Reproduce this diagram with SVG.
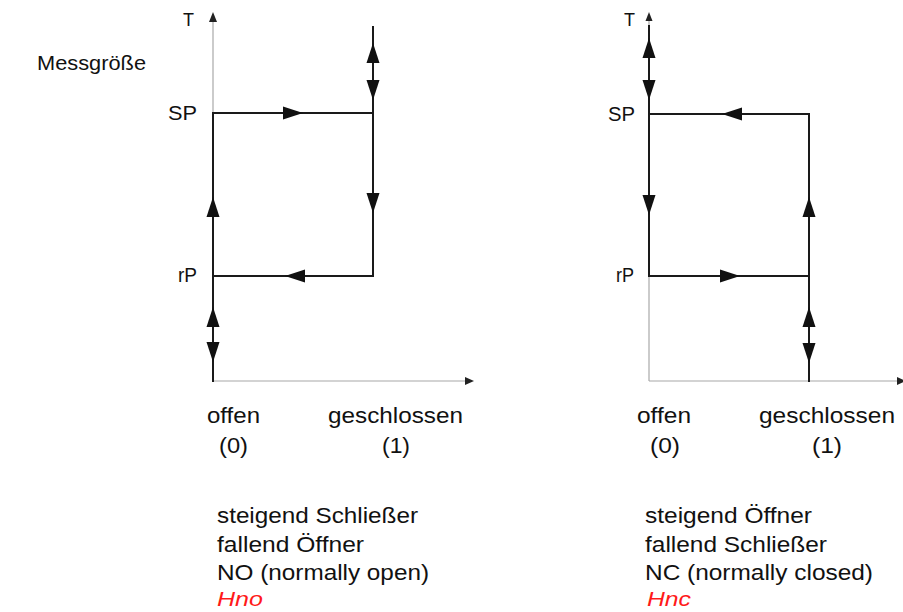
<svg xmlns="http://www.w3.org/2000/svg" width="903" height="612" viewBox="0 0 903 612">
  <style>
    .axis { stroke: #a8a8a8; stroke-width: 1.2; fill: none; }
    .path { stroke: #1a1a1a; stroke-width: 2; fill: none; stroke-linecap: square; }
    .head { fill: #111; }
    .axhead { fill: #222; }
    text { font-family: "Liberation Sans", Arial, sans-serif; fill: #111; }
    .lbl { font-size: 19.5px; }
    .axl { font-size: 18px; }
    .cap { font-size: 22px; }
    .code { font-family: "Liberation Sans", Arial, sans-serif; font-style: italic; font-size: 21px; fill: #ff1a1a; }
  </style>
  <defs>
    <!-- filled direction triangle, tip at origin, pointing along +x -->
    <path id="tri" d="M0,0 L-20,-6.5 L-20,6.5 Z"/>
  </defs>

  <rect width="903" height="612" fill="#fff"/>

  <g id="title">
    <text class="lbl" x="37" y="70" textLength="109" lengthAdjust="spacingAndGlyphs">Messgröße</text>
  </g>

  <!-- switching characteristic: normally open -->
  <g id="chart-no">
    <g id="no-axes">
      <line class="axis" x1="213" y1="20" x2="213" y2="381"/>
      <line class="axis" x1="213" y1="381" x2="467" y2="381"/>
      <path class="axhead" d="M213,12 L209,22 L217,22 Z"/>
      <path class="axhead" d="M474,381 L465,377 L465,385 Z"/>
      <text class="axl" x="183" y="26" textLength="11" lengthAdjust="spacingAndGlyphs">T</text>
      <text class="lbl" x="168" y="120" textLength="29" lengthAdjust="spacingAndGlyphs">SP</text>
      <text class="lbl" x="178" y="282" textLength="19" lengthAdjust="spacingAndGlyphs">rP</text>
    </g>
    <g id="no-connectors">
      <polyline class="path" points="213,381 213,113 373,113"/>
      <line class="path" x1="373" y1="27" x2="373" y2="276"/>
      <line class="path" x1="373" y1="276" x2="213" y2="276"/>
      <use href="#tri" class="head" transform="translate(303,113)"/>
      <use href="#tri" class="head" transform="translate(373,43) rotate(-90)"/>
      <use href="#tri" class="head" transform="translate(373,100) rotate(90)"/>
      <use href="#tri" class="head" transform="translate(373,213) rotate(90)"/>
      <use href="#tri" class="head" transform="translate(285,276) rotate(180)"/>
      <use href="#tri" class="head" transform="translate(213,197) rotate(-90)"/>
      <use href="#tri" class="head" transform="translate(213,307) rotate(-90)"/>
      <use href="#tri" class="head" transform="translate(213,362) rotate(90)"/>
    </g>
    <g id="no-states">
      <text class="cap" x="207" y="423" textLength="53" lengthAdjust="spacingAndGlyphs">offen</text>
      <text class="cap" x="219" y="453" textLength="29" lengthAdjust="spacingAndGlyphs">(0)</text>
      <text class="cap" x="328" y="423" textLength="135" lengthAdjust="spacingAndGlyphs">geschlossen</text>
      <text class="cap" x="382" y="453" textLength="28" lengthAdjust="spacingAndGlyphs">(1)</text>
    </g>
    <g id="no-caption">
      <text class="cap" x="217" y="523" textLength="201" lengthAdjust="spacingAndGlyphs">steigend Schließer</text>
      <text class="cap" x="217" y="552" textLength="147" lengthAdjust="spacingAndGlyphs">fallend Öffner</text>
      <text class="cap" x="217" y="580" textLength="212" lengthAdjust="spacingAndGlyphs">NO (normally open)</text>
      <text class="code" x="217" y="606" textLength="46" lengthAdjust="spacingAndGlyphs">Hno</text>
    </g>
  </g>

  <!-- switching characteristic: normally closed -->
  <g id="chart-nc">
    <g id="nc-axes">
      <line class="axis" x1="649" y1="19" x2="649" y2="381"/>
      <line class="axis" x1="649" y1="381" x2="898" y2="381"/>
      <path class="axhead" d="M649,12 L645.5,21 L652.5,21 Z"/>
      <path class="axhead" d="M906,381 L897,377 L897,385 Z"/>
      <text class="axl" x="624" y="26" textLength="11" lengthAdjust="spacingAndGlyphs">T</text>
      <text class="lbl" x="608" y="121" textLength="27" lengthAdjust="spacingAndGlyphs">SP</text>
      <text class="lbl" x="616" y="282" textLength="18" lengthAdjust="spacingAndGlyphs">rP</text>
    </g>
    <g id="nc-connectors">
      <line class="path" x1="649" y1="26" x2="649" y2="276"/>
      <polyline class="path" points="649,114 809,114 809,381"/>
      <line class="path" x1="649" y1="276" x2="809" y2="276"/>
      <use href="#tri" class="head" transform="translate(722,114) rotate(180)"/>
      <use href="#tri" class="head" transform="translate(649,38) rotate(-90)"/>
      <use href="#tri" class="head" transform="translate(649,100) rotate(90)"/>
      <use href="#tri" class="head" transform="translate(649,215) rotate(90)"/>
      <use href="#tri" class="head" transform="translate(809,197) rotate(-90)"/>
      <use href="#tri" class="head" transform="translate(740,276)"/>
      <use href="#tri" class="head" transform="translate(809,307) rotate(-90)"/>
      <use href="#tri" class="head" transform="translate(809,363) rotate(90)"/>
    </g>
    <g id="nc-states">
      <text class="cap" x="637" y="423" textLength="54" lengthAdjust="spacingAndGlyphs">offen</text>
      <text class="cap" x="650" y="453" textLength="30" lengthAdjust="spacingAndGlyphs">(0)</text>
      <text class="cap" x="759" y="423" textLength="136" lengthAdjust="spacingAndGlyphs">geschlossen</text>
      <text class="cap" x="812" y="453" textLength="30" lengthAdjust="spacingAndGlyphs">(1)</text>
    </g>
    <g id="nc-caption">
      <text class="cap" x="645" y="523" textLength="167" lengthAdjust="spacingAndGlyphs">steigend Öffner</text>
      <text class="cap" x="645" y="552" textLength="182" lengthAdjust="spacingAndGlyphs">fallend Schließer</text>
      <text class="cap" x="645" y="580" textLength="228" lengthAdjust="spacingAndGlyphs">NC (normally closed)</text>
      <text class="code" x="647" y="606" textLength="44" lengthAdjust="spacingAndGlyphs">Hnc</text>
    </g>
  </g>
</svg>
